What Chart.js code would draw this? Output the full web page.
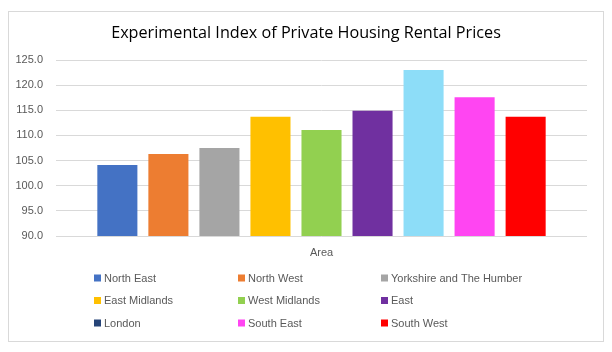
<!DOCTYPE html>
<html>
<head>
<meta charset="utf-8">
<script src="https://cdn.jsdelivr.net/npm/chart.js@4/dist/chart.umd.min.js"></script>
<style>
  html, body { margin: 0; padding: 0; background: #fff; }
  #wrap { width: 612px; height: 352px; position: relative; }
</style>
</head>
<body>
<div id="wrap"><canvas id="c" width="612" height="352"></canvas></div>
<script>
const chartTitle = "Experimental Index of Private Housing Rental Prices";
const categories = ["Area"];
const regions = ["North East", "North West", "Yorkshire and The Humber", "East Midlands", "West Midlands", "East", "London", "South East", "South West"];
const values = [104.1, 106.3, 107.5, 113.7, 111.1, 114.9, 123.0, 117.6, 113.7];
const barColors = ["#4472C4", "#ED7D31", "#A5A5A5", "#FFC000", "#92D050", "#7030A0", "#8DDDF8", "#FF45F2", "#FF0000"];
const legendColors = ["#4472C4", "#ED7D31", "#A5A5A5", "#FFC000", "#92D050", "#7030A0", "#264478", "#FF45F2", "#FF0000"];
const yMin = 90, yMax = 125, yStep = 5;

const datasets = regions.map((r, i) => ({
  label: r,
  data: [values[i]],
  backgroundColor: barColors[i],
  borderWidth: 0,
  categoryPercentage: 0.865,
  barPercentage: 0.785
}));

const framePlugin = {
  id: 'frame',
  beforeDraw(chart) {
    const ctx = chart.ctx;
    ctx.save();
    ctx.fillStyle = '#fff';
    ctx.fillRect(0, 0, chart.width, chart.height);
    ctx.strokeStyle = '#d9d9d9';
    ctx.lineWidth = 1;
    ctx.strokeRect(8.5, 11.5, 595, 330);
    ctx.restore();
  },
  afterDraw(chart) {
    const ctx = chart.ctx;
    ctx.save();
    // title
    let size = 19;
    ctx.font = size + 'px "Open Sans", sans-serif';
    let w = ctx.measureText(chartTitle).width;
    size = size * 390 / w;
    ctx.font = size + 'px "Open Sans", sans-serif';
    ctx.fillStyle = '#000';
    ctx.textAlign = 'center';
    ctx.textBaseline = 'middle';
    ctx.fillText(chartTitle, 306, 33);
    // legend, 3 columns
    const colX = [94, 238, 381];
    const rowY = [278, 300.5, 323];
    ctx.font = '11px "Liberation Sans", Arial, sans-serif';
    ctx.textAlign = 'left';
    chart.data.datasets.forEach((ds, i) => {
      const x = colX[i % 3], y = rowY[Math.floor(i / 3)];
      ctx.fillStyle = legendColors[i];
      ctx.fillRect(x, y - 3.5, 7, 7);
      ctx.fillStyle = '#595959';
      ctx.fillText(ds.label, x + 10, y + 0.5);
    });
    ctx.restore();
  }
};

new Chart(document.getElementById('c'), {
  type: 'bar',
  data: { labels: categories, datasets },
  options: {
    responsive: false,
    animation: false,
    layout: { padding: { left: 8, right: 25, top: 60, bottom: 86 } },
    plugins: {
      legend: { display: false },
      title: { display: false },
      tooltip: { enabled: false }
    },
    scales: {
      x: {
        grid: { display: false },
        border: { display: false },
        ticks: { color: '#595959', font: { size: 11, family: '"Liberation Sans", Arial, sans-serif' }, padding: 2 },
        afterFit(scale) { scale.height = 30; }
      },
      y: {
        min: yMin, max: yMax,
        grid: { color: '#d9d9d9', drawTicks: false },
        border: { display: false },
        ticks: {
          stepSize: yStep,
          padding: 13,
          color: '#595959',
          font: { size: 11, family: '"Liberation Sans", Arial, sans-serif' },
          callback: v => v.toFixed(1)
        },
        afterFit(scale) { scale.width = 48; }
      }
    }
  },
  plugins: [framePlugin]
});
</script>
</body>
</html>
